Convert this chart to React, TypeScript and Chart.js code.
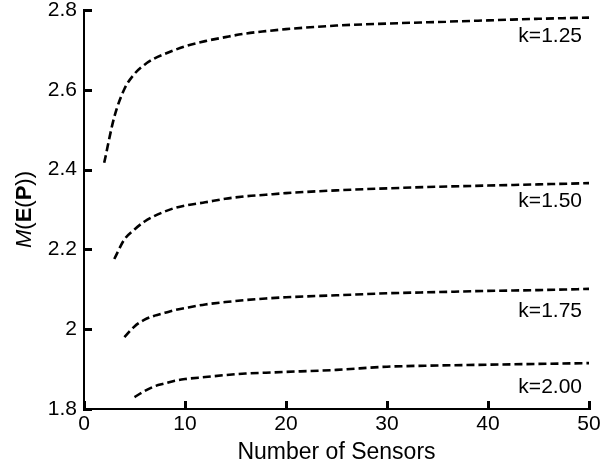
import React, { useEffect, useRef } from "react";
import { Chart, registerables } from "chart.js";

Chart.register(...registerables);

const xTicks = [0, 10, 20, 30, 40, 50];
const yTicks = [1.8, 2.0, 2.2, 2.4, 2.6, 2.8];

const k125X = [2, 3, 4, 5, 6, 7, 8, 9, 10, 12, 14, 16, 18, 20, 25, 30, 35, 40, 45, 50];
const k125Y = [2.417, 2.532, 2.602, 2.64, 2.663, 2.679, 2.69, 2.7, 2.709, 2.722, 2.732, 2.741, 2.747, 2.752, 2.761, 2.766, 2.77, 2.774, 2.778, 2.781];

const k150X = [3, 4, 5, 6, 7, 8, 9, 10, 12, 14, 16, 18, 20, 25, 30, 35, 40, 45, 50];
const k150Y = [2.176, 2.225, 2.25, 2.27, 2.284, 2.295, 2.304, 2.31, 2.318, 2.327, 2.333, 2.337, 2.341, 2.348, 2.353, 2.357, 2.36, 2.363, 2.366];

const k175X = [4, 5, 6, 7, 8, 9, 10, 12, 14, 16, 18, 20, 25, 30, 35, 40, 45, 50];
const k175Y = [1.98, 2.007, 2.024, 2.034, 2.041, 2.048, 2.053, 2.062, 2.068, 2.073, 2.077, 2.08, 2.085, 2.09, 2.093, 2.096, 2.098, 2.101];

const k200X = [5, 6, 7, 8, 9, 10, 12, 14, 16, 18, 20, 25, 30, 35, 40, 45, 50];
const k200Y = [1.83, 1.845, 1.857, 1.864, 1.871, 1.875, 1.88, 1.885, 1.889, 1.891, 1.893, 1.898, 1.906, 1.909, 1.911, 1.913, 1.915];

const seriesLabels = ["k=1.25", "k=1.50", "k=1.75", "k=2.00"];
const xTitle = "Number of Sensors";

const FONT = "'Liberation Sans', Arial, sans-serif";

export default function App() {
  const ref = useRef<HTMLCanvasElement | null>(null);

  useEffect(() => {
    if (!ref.current) return;
    const xs = [k125X, k150X, k175X, k200X];
    const ys = [k125Y, k150Y, k175Y, k200Y];
    const datasets = xs.map((xArr, i) => ({
      label: seriesLabels[i],
      data: xArr.map((x, j) => ({ x, y: ys[i][j] })),
      borderColor: "#000",
      borderWidth: 2.6,
      borderDash: [8, 4],
      pointRadius: 0,
      fill: false,
      cubicInterpolationMode: "monotone" as const,
    }));

    const labelOffsets = [19, 18, 22, 24];

    const decor = {
      id: "decor",
      afterDraw(chart: any) {
        const ctx = chart.ctx as CanvasRenderingContext2D;
        const xsc = chart.scales.x;
        const ysc = chart.scales.y;
        const area = chart.chartArea;
        ctx.save();

        // series labels
        ctx.fillStyle = "#000";
        ctx.font = `21px ${FONT}`;
        ctx.textAlign = "right";
        ctx.textBaseline = "middle";
        const ysLast = [k125Y, k150Y, k175Y, k200Y].map((a) => a[a.length - 1]);
        seriesLabels.forEach((lab, i) => {
          const py = ysc.getPixelForValue(ysLast[i]) + labelOffsets[i];
          ctx.fillText(lab, area.right - 7, py);
        });

        // inward ticks
        ctx.setLineDash([]);
        ctx.fillStyle = "#000000";
        const bottom = Math.round(area.bottom);
        const left = Math.round(area.left);
        for (let i = 0; i < xTicks.length; i++) {
          const px = Math.round(xsc.getPixelForValue(xTicks[i]));
          ctx.fillRect(px - 1, bottom - 8, 3, 9);
        }
        for (let i = 0; i < yTicks.length; i++) {
          const py = Math.round(ysc.getPixelForValue(yTicks[i]));
          ctx.fillRect(left - 1, py - 1, 9, 3);
        }

        // y axis title with mixed styles
        const parts: [string, string][] = [
          ["M", `italic 22px ${FONT}`],
          ["(", `22px ${FONT}`],
          ["E", `bold 22px ${FONT}`],
          ["(", `22px ${FONT}`],
          ["P", `bold 22px ${FONT}`],
          ["))", `22px ${FONT}`],
        ];
        let total = 0;
        const widths = parts.map(([t, f]) => {
          ctx.font = f;
          const w = ctx.measureText(t).width;
          total += w;
          return w;
        });
        ctx.translate(25, (area.top + area.bottom) / 2);
        ctx.rotate(-Math.PI / 2);
        ctx.textAlign = "left";
        ctx.textBaseline = "middle";
        let cx = -total / 2;
        parts.forEach(([t, f], i) => {
          ctx.font = f;
          ctx.fillText(t, cx, 0);
          cx += widths[i];
        });
        ctx.restore();
      },
    };

    const chart = new Chart(ref.current, {
      type: "line",
      data: { datasets },
      options: {
        responsive: false,
        animation: false,
        layout: { padding: { left: 0, top: 10, right: 27, bottom: 0 } },
        plugins: {
          legend: { display: false },
          tooltip: { enabled: false },
        },
        scales: {
          x: {
            type: "linear",
            min: 0,
            max: 50,
            afterBuildTicks: (s: any) => {
              s.ticks = xTicks.map((v) => ({ value: v }));
            },
            afterFit: (s: any) => {
              s.height = 58;
              s.paddingLeft = 0;
              s.paddingRight = 0;
            },
            grid: { display: false, drawTicks: false },
            border: { display: true, color: "#000", width: 2 },
            ticks: {
              color: "#000",
              padding: 3,
              maxRotation: 0,
              font: { size: 21, family: FONT },
            },
            title: {
              display: true,
              text: xTitle,
              color: "#000",
              font: { size: 23, family: FONT },
              padding: { top: 0, bottom: 1 },
            },
          },
          y: {
            type: "linear",
            min: 1.8,
            max: 2.8,
            afterBuildTicks: (s: any) => {
              s.ticks = yTicks.map((v) => ({ value: v }));
            },
            afterFit: (s: any) => {
              s.width = 84;
              s.paddingTop = 0;
              s.paddingBottom = 0;
            },
            grid: { display: false, drawTicks: false },
            border: { display: true, color: "#000", width: 2 },
            ticks: {
              color: "#000",
              padding: 7,
              font: { size: 21, family: FONT },
              callback: (v: any) => String(Math.round(Number(v) * 10) / 10),
            },
          },
        },
      },
      plugins: [decor],
    });
    return () => chart.destroy();
  }, []);

  return (
    <div style={{ position: "absolute", left: 0, top: 0, width: 616, height: 467, background: "#fff" }}>
      <canvas ref={ref} width={616} height={467} />
    </div>
  );
}
